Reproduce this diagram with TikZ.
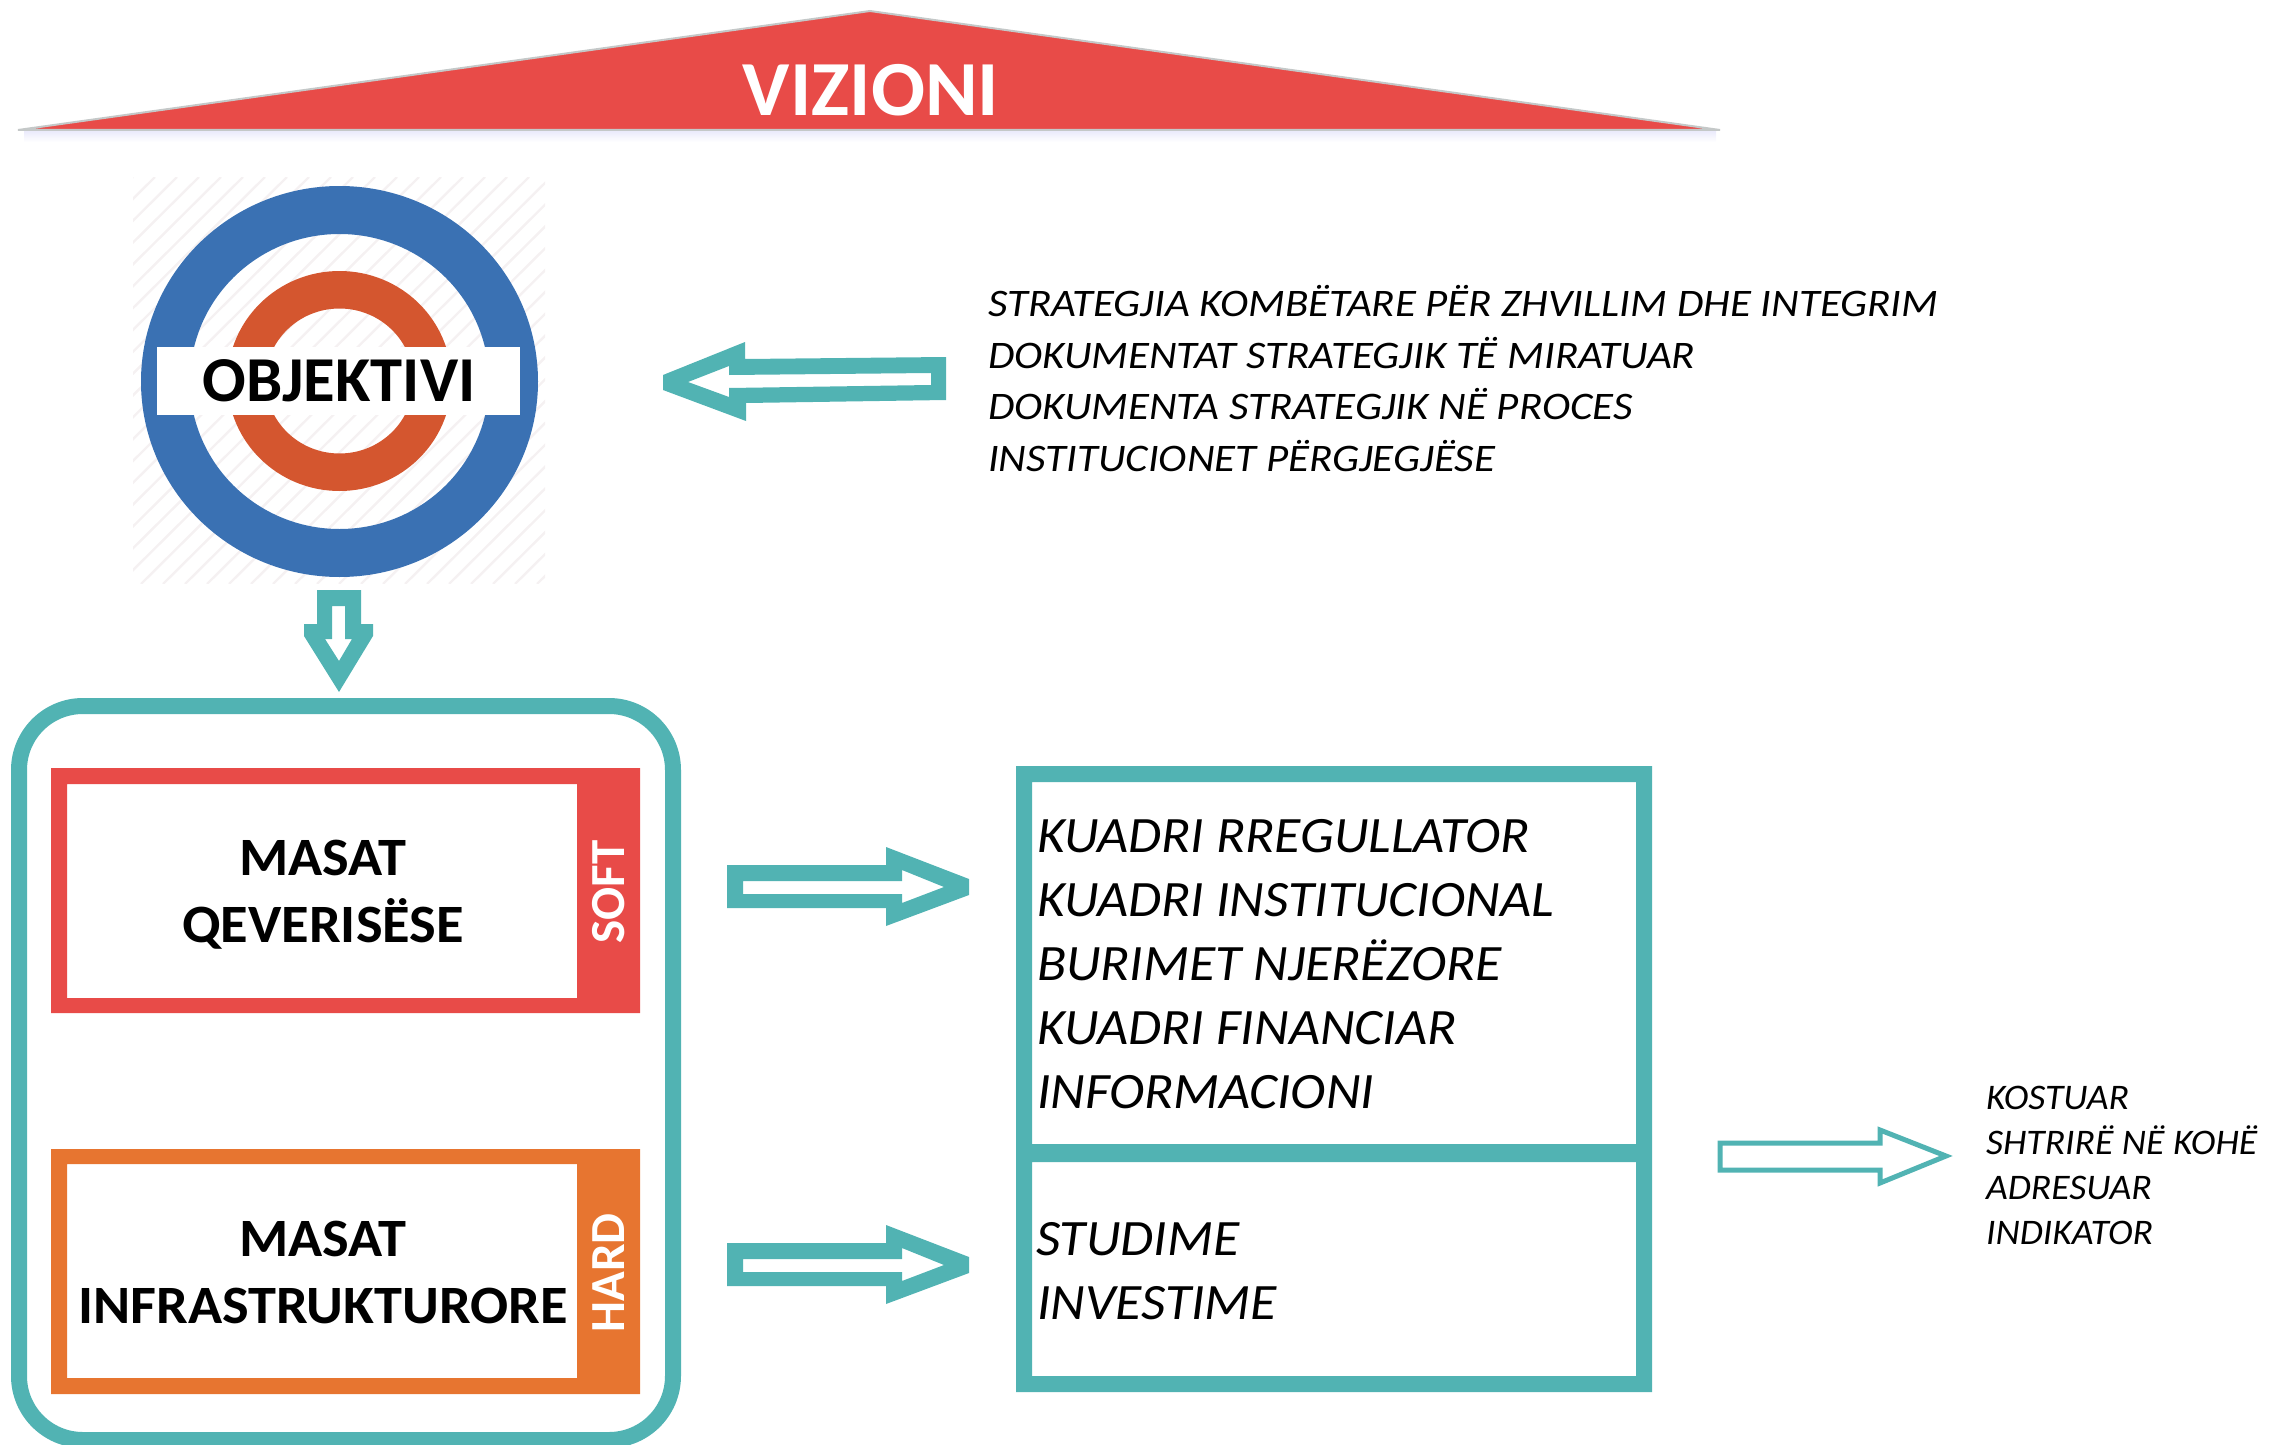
\documentclass[tikz,border=0pt]{standalone}
\usepackage{fontspec}
\setmainfont{Carlito}
\definecolor{teal1}{HTML}{51B3B3}
\definecolor{red1}{HTML}{E84B48}
\definecolor{orange1}{HTML}{E77530}
\definecolor{blue1}{HTML}{3A71B3}
\definecolor{rust1}{HTML}{D4562F}
\definecolor{hatch1}{HTML}{F5F1F2}
\definecolor{edge1}{HTML}{C4C8C8}
\usetikzlibrary{calc}
\tikzset{
  teal arrow/.style={fill=teal1,even odd rule,draw=none},
  lbl/.style={anchor=base west,inner sep=0pt,outer sep=0pt,text=black},
  toplist/.style={lbl,font=\fontsize{19.5}{20}\selectfont\itshape,xscale=1.10,transform shape},
  midlist/.style={lbl,font=\fontsize{25.5}{26}\selectfont\itshape,xscale=1.053,transform shape},
  sidelist/.style={lbl,font=\fontsize{18}{20}\selectfont\itshape,xscale=1.045,transform shape},
  headb/.style={anchor=base,inner sep=0pt,outer sep=0pt,font=\fontsize{27}{28}\selectfont\bfseries,text=black,xscale=1.044,transform shape},
  tag/.style={anchor=center,inner sep=0pt,outer sep=0pt,rotate=90,text=white,font=\fontsize{24.5}{26}\selectfont\bfseries},
}
\begin{document}
\begin{tikzpicture}[x=0.5pt,y=-0.5pt]
\useasboundingbox (0,0) rectangle (2286,1445);
% roof
\shade[top color=black!18!blue!8,bottom color=white,draw=none] (24,131) rectangle (1716,142);
\fill[red1,draw=edge1,line width=1pt] (18,130) -- (870,11) -- (1720,130) -- cycle;
\node[anchor=base,inner sep=0pt,text=white,font=\fontsize{39}{41}\selectfont\bfseries,xscale=1.025,transform shape] (vizioni) at (871,116) {VIZIONI};
% target
\begin{scope}
\clip (133,177) rectangle (545,583);
\foreach \i in {0,22,...,900}{\draw[hatch1,line width=1.2pt] (133+\i-410,584) -- (133+\i,177);}
\end{scope}
\fill[blue1,even odd rule] (339.5,381.5) ellipse [x radius=198.5,y radius=195.5] (339.5,381.5) ellipse [x radius=149.5,y radius=147.5];
\fill[rust1,even odd rule] (339.5,381) ellipse [x radius=112,y radius=110] (339.5,381) ellipse [x radius=74,y radius=72.5];
\fill[white] (157,347) rectangle (520,415);
\node[anchor=base,inner sep=0pt,text=black,font=\fontsize{32}{33}\selectfont\bfseries,xscale=1.01,transform shape] (objektivi) at (339,401) {OBJEKTIVI};
% down arrow
\fill[teal arrow] (317,590) -- (361,590) -- (361,624) -- (373,624) -- (373,636) -- (339,692) -- (304,636) -- (304,624) -- (317,624) -- cycle
  (332,606) -- (345,606) -- (345,639) -- (352,639) -- (339,661) -- (325,639) -- (332,639) -- cycle;
% left arrow
\fill[teal arrow] (946,357) -- (745,359) -- (745,342) -- (663,375) -- (663,390) -- (746,421) -- (746,403) -- (946,400) -- cycle
  (931,373) -- (729,375) -- (729,366) -- (688,382) -- (729,397) -- (729,388) -- (931,385) -- cycle;
% top list
\node[toplist] (t1) at (988,316) {STRATEGJIA KOMBËTARE PËR ZHVILLIM DHE INTEGRIM};
\node[toplist] (t2) at (988,368) {DOKUMENTAT STRATEGJIK TË MIRATUAR};
\node[toplist] (t3) at (988,419) {DOKUMENTA STRATEGJIK NË PROCES};
\node[toplist] (t4) at (988,471) {INSTITUCIONET PËRGJEGJËSE};
% frame
\draw[teal1,line width=8pt,rounded corners=32pt] (19,706) rectangle (673,1440);
% red box
\fill[red1,even odd rule] (51,768) rectangle (640,1013) (67,784) rectangle (577,998);
\node[headb] (m1) at (323,875) {MASAT};
\node[headb] (m2) at (323,942) {QEVERISËSE};
\node[tag] (soft) at (609,892) {SOFT};
% orange box
\fill[orange1,even odd rule] (51,1149) rectangle (640,1394) (67,1164) rectangle (577,1378);
\node[headb] (m3) at (323,1256) {MASAT};
\node[headb] (m4) at (323,1323) {INFRASTRUKTURORE};
\node[tag] (hard) at (609,1273) {HARD};
% right arrows
\foreach \dy in {0,378}{
\fill[teal arrow] (727,865+\dy) -- (886,865+\dy) -- (886,847+\dy) -- (969,879+\dy) -- (969,895+\dy) -- (886,926+\dy) -- (886,908+\dy) -- (727,908+\dy) -- cycle
  (743,881+\dy) -- (902,881+\dy) -- (902,870+\dy) -- (944,887+\dy) -- (902,903+\dy) -- (902,894+\dy) -- (743,894+\dy) -- cycle;
}
% right box
\fill[teal1,even odd rule] (1016,766) rectangle (1652,1392) (1032,782) rectangle (1636,1144) (1032,1162) rectangle (1636,1376);
\node[midlist] (k1) at (1037,852) {KUADRI RREGULLATOR};
\node[midlist] (k2) at (1037,916) {KUADRI INSTITUCIONAL};
\node[midlist] (k3) at (1037,980) {BURIMET NJERËZORE};
\node[midlist] (k4) at (1037,1044) {KUADRI FINANCIAR};
\node[midlist] (k5) at (1037,1108) {INFORMACIONI};
\node[midlist] (s1) at (1036,1255) {STUDIME};
\node[midlist] (s2) at (1037,1319) {INVESTIME};
% thin arrow
\draw[teal1,line width=2.5pt,miter limit=10,fill=white] (1720,1143) -- (1880,1143) -- (1880,1130) -- (1946,1156) -- (1880,1183) -- (1880,1170) -- (1720,1170) -- cycle;
\node[sidelist] (q1) at (1986,1109) {KOSTUAR};
\node[sidelist] (q2) at (1986,1154) {SHTRIRË NË KOHË};
\node[sidelist] (q3) at (1986,1199) {ADRESUAR};
\node[sidelist] (q4) at (1986,1244) {INDIKATOR};
\end{tikzpicture}
\end{document}
